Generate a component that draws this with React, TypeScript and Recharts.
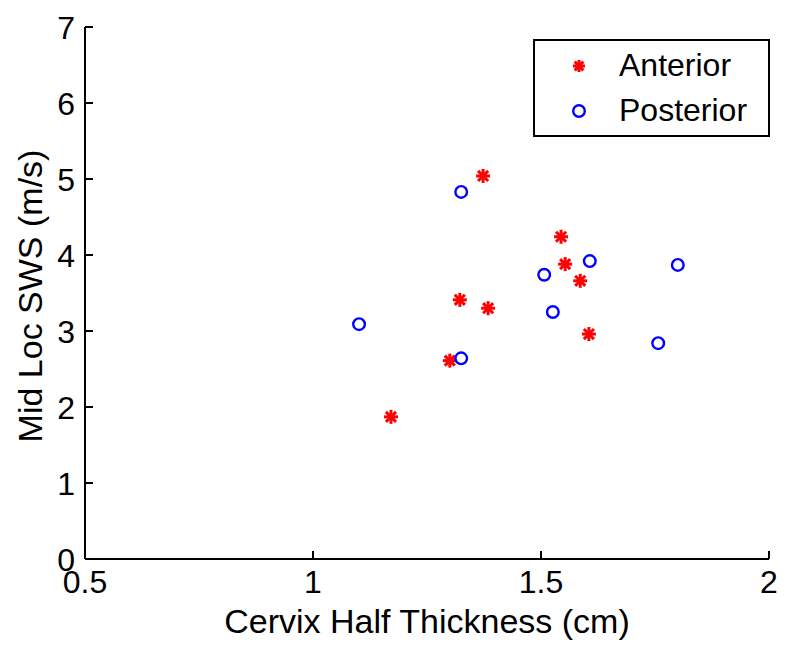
import React from 'react';
import { ScatterChart, Scatter, XAxis, YAxis } from 'recharts';

// values
const anteriorX = [1.373, 1.544, 1.553, 1.586, 1.322, 1.384, 1.605, 1.3, 1.171];
const anteriorY = [5.04, 4.24, 3.88, 3.66, 3.41, 3.3, 2.96, 2.61, 1.87];
const posteriorX = [1.325, 1.607, 1.507, 1.526, 1.101, 1.325, 1.757, 1.8];
const posteriorY = [4.83, 3.92, 3.74, 3.25, 3.09, 2.64, 2.84, 3.87];

const xTicks = [0.5, 1, 1.5, 2];
const yTicks = [0, 1, 2, 3, 4, 5, 6, 7];

const anterior = anteriorX.map((x, i) => ({ x, y: anteriorY[i] }));
const posterior = posteriorX.map((x, i) => ({ x, y: posteriorY[i] }));

const FONT = '"Liberation Sans", Arial, Helvetica, sans-serif';
const FS = 32;
const LABEL_FS = 34;
const TICK = 8;

const Asterisk = ({ cx, cy, r = 7 }: any) => {
  const d = r * 0.72;
  return (
    <g stroke="#ff0000" strokeWidth={3} strokeLinecap="butt">
      <line x1={cx - r} y1={cy} x2={cx + r} y2={cy} />
      <line x1={cx} y1={cy - r} x2={cx} y2={cy + r} />
      <line x1={cx - d} y1={cy - d} x2={cx + d} y2={cy + d} />
      <line x1={cx - d} y1={cy + d} x2={cx + d} y2={cy - d} />
    </g>
  );
};

const Circle = ({ cx, cy }: any) => (
  <circle cx={cx} cy={cy} r={5.8} fill="none" stroke="#0000ff" strokeWidth={2.4} />
);

const BottomTick = ({ x, y, payload }: any) => (
  <g>
    <line x1={x} y1={y} x2={x} y2={y - TICK} stroke="#000" strokeWidth={2} />
    <text x={x} y={y + 34} textAnchor="middle" fontFamily={FONT} fontSize={FS} fill="#000">
      {payload.value}
    </text>
  </g>
);

const TopTick = ({ x, y }: any) => (
  <line x1={x} y1={y} x2={x} y2={y + TICK} stroke="#000" strokeWidth={2} />
);

const LeftTick = ({ x, y, payload }: any) => (
  <g>
    <line x1={x} y1={y} x2={x + TICK} y2={y} stroke="#000" strokeWidth={2} />
    <text x={x - 10} y={y} dy="0.36em" textAnchor="end" fontFamily={FONT} fontSize={FS} fill="#000">
      {payload.value}
    </text>
  </g>
);

const RightTick = ({ x, y }: any) => (
  <line x1={x} y1={y} x2={x - TICK} y2={y} stroke="#000" strokeWidth={2} />
);

const legendItems = [
  { name: 'Anterior', icon: 'a' },
  { name: 'Posterior', icon: 'p' },
];

const LegendBox = () => (
  <div
    style={{
      position: 'absolute',
      left: 533,
      top: 39,
      width: 233,
      height: 94,
      border: '2px solid #000',
      background: '#fff',
      fontFamily: FONT,
      fontSize: FS,
    }}
  >
    {legendItems.map((it, i) => (
      <div key={it.name} style={{ display: 'flex', alignItems: 'center', height: 45, marginTop: i === 0 ? 2 : 0 }}>
        <svg width={84} height={45}>
          {it.icon === 'a' ? <Asterisk cx={44} cy={23} r={6} /> : <Circle cx={44} cy={23} />}
        </svg>
        <span style={{ lineHeight: '45px' }}>{it.name}</span>
      </div>
    ))}
  </div>
);

export default function App() {
  return (
    <div style={{ position: 'absolute', left: 0, top: 0, width: 800, height: 657, background: '#fff' }}>
      <ScatterChart width={800} height={657} margin={{ top: 27, right: 31, left: 0, bottom: 0 }}>
        <XAxis
          dataKey="x"
          type="number"
          domain={[0.5, 2]}
          ticks={xTicks}
          allowDataOverflow
          height={98}
          tickSize={0}
          tickMargin={0}
          tickLine={false}
          axisLine={{ stroke: '#000', strokeWidth: 2 }}
          tick={<BottomTick />}
          interval={0}
          label={{
            content: ({ viewBox }: any) => (
              <text
                x={viewBox.x + viewBox.width / 2}
                y={viewBox.y + 74}
                textAnchor="middle"
                fontFamily={FONT}
                fontSize={LABEL_FS}
                fill="#000"
              >
                Cervix Half Thickness (cm)
              </text>
            ),
          }}
        />
        <XAxis
          xAxisId="top"
          orientation="top"
          type="number"
          domain={[0.5, 2]}
          ticks={xTicks}
          allowDataOverflow
          height={0}
          tickSize={0}
          tickLine={false}
          axisLine={{ stroke: '#000', strokeWidth: 2 }}
          tick={<TopTick />}
          interval={0}
        />
        <YAxis
          dataKey="y"
          type="number"
          domain={[0, 7]}
          ticks={yTicks}
          allowDataOverflow
          width={85}
          tickSize={0}
          tickMargin={0}
          tickLine={false}
          axisLine={{ stroke: '#000', strokeWidth: 2 }}
          tick={<LeftTick />}
          interval={0}
          label={{
            content: ({ viewBox }: any) => {
              const cx = viewBox.x + 30;
              const cy = viewBox.y + viewBox.height / 2 + 3;
              return (
                <text
                  x={cx}
                  y={cy}
                  dy="0.36em"
                  transform={`rotate(-90, ${cx}, ${cy})`}
                  textAnchor="middle"
                  fontFamily={FONT}
                  fontSize={LABEL_FS}
                  fill="#000"
                >
                  Mid Loc SWS (m/s)
                </text>
              );
            },
          }}
        />
        <YAxis
          yAxisId="right"
          orientation="right"
          type="number"
          domain={[0, 7]}
          ticks={yTicks}
          allowDataOverflow
          width={0}
          tickSize={0}
          tickLine={false}
          axisLine={{ stroke: '#000', strokeWidth: 2 }}
          tick={<RightTick />}
          interval={0}
        />
        <Scatter name="Anterior" data={anterior} shape={<Asterisk />} isAnimationActive={false} />
        <Scatter name="Posterior" data={posterior} shape={<Circle />} isAnimationActive={false} />
      </ScatterChart>
      <LegendBox />
    </div>
  );
}
